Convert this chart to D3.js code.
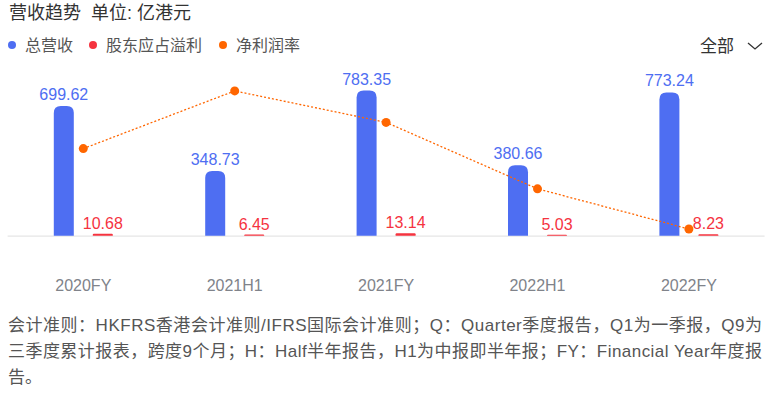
<!DOCTYPE html>
<html>
<head>
<meta charset="utf-8">
<script src="https://cdn.jsdelivr.net/npm/d3@7"></script>
<style>
  body { margin: 0; background: #fff; }
  svg { display: block; }
</style>
</head>
<body>
<svg id="chart" width="773" height="399"></svg>
<script>
const categories = ["2020FY", "2021H1", "2021FY", "2022H1", "2022FY"];
const revenue = [699.62, 348.73, 783.35, 380.66, 773.24];
const netProfit = [10.68, 6.45, 13.14, 5.03, 8.23];
const margin = [1.52, 1.85, 1.67, 1.29, 1.06]; // 净利润率 (%)
const legendNames = ["总营收", "股东应占溢利", "净利润率"];
const footLines = [
    "会计准则：HKFRS香港会计准则/IFRS国际会计准则；Q：Quarter季度报告，Q1为一季报，Q9为",
    "三季度累计报表，跨度9个月；H：Half半年报告，H1为中报即半年报；FY：Financial Year年度报",
    "告。"
];

const FONT = "'Liberation Sans', Arial, 'Noto Sans CJK SC', sans-serif";
const BLUE = "#4e6ef2", RED = "#f5333f", ORANGE = "#ff6600";

const svg = d3.select("#chart").style("font-family", FONT);

const x = d3.scaleBand().domain(categories).range([7.6, 764.6]);
const y = d3.scaleLinear().domain([0, 800]).range([235.7, 87.5]);
const yR = d3.scaleLinear().domain([1, 2]).range([239.5, 64.7]);
const cx = d => x(d) + x.bandwidth() / 2;
const barW = 20, off = 19.5;

// title
svg.append("text").attr("x", 9).attr("y", 19)
    .style("font-size", "18px").style("fill", "#333").style("white-space", "pre")
    .text("营收趋势  单位: 亿港元");

// legend
const legend = svg.append("g").attr("transform", "translate(0, 45)");
const legendX = [12, 93, 223];
const legendCol = [BLUE, RED, ORANGE];
legendNames.forEach((n, i) => {
    legend.append("circle").attr("cx", legendX[i]).attr("cy", 0).attr("r", 4).style("fill", legendCol[i]);
    legend.append("text").attr("x", legendX[i] + 13).attr("y", 6)
        .style("font-size", "16px").style("fill", "#555").text(n);
});

// dropdown
svg.append("text").attr("x", 700).attr("y", 52)
    .style("font-size", "17px").style("fill", "#333").text("全部");
svg.append("polyline").attr("points", "748,43 755,49 762,43")
    .style("fill", "none").style("stroke", "#333").style("stroke-width", 1.3);

// baseline
svg.append("line").attr("x1", 7.6).attr("x2", 764.6).attr("y1", 236.2).attr("y2", 236.2)
    .style("stroke", "#e6e6e6").style("stroke-width", 1.2);

// rounded-top bar path
function topRounded(x0, y0, w, h, r) {
    r = Math.min(r, h, w / 2);
    return `M${x0},${y0 + h}V${y0 + r}Q${x0},${y0} ${x0 + r},${y0}H${x0 + w - r}Q${x0 + w},${y0} ${x0 + w},${y0 + r}V${y0 + h}Z`;
}

const revData = categories.map((c, i) => ({ c, v: revenue[i] }));
const npData = categories.map((c, i) => ({ c, v: netProfit[i] }));

svg.append("g").selectAll("path").data(revData).join("path")
    .attr("d", d => topRounded(cx(d.c) - off - barW / 2, y(d.v), barW, y(0) - y(d.v), 7))
    .style("fill", BLUE);

svg.append("g").selectAll("text").data(revData).join("text")
    .attr("x", d => cx(d.c) - off).attr("y", d => y(d.v) - 6)
    .attr("text-anchor", "middle")
    .style("font-size", "16px").style("fill", BLUE)
    .text(d => d.v.toFixed(2));

svg.append("g").selectAll("path").data(npData).join("path")
    .attr("d", d => topRounded(cx(d.c) + off - barW / 2, y(d.v), barW, y(0) - y(d.v), 1))
    .style("fill", RED);

svg.append("g").selectAll("text").data(npData).join("text")
    .attr("x", d => cx(d.c) + off).attr("y", d => y(d.v) - 5)
    .attr("text-anchor", "middle")
    .style("font-size", "16px").style("fill", RED)
    .text(d => d.v.toFixed(2));

// margin line
const mData = categories.map((c, i) => ({ c, v: margin[i] }));
svg.append("path").datum(mData)
    .attr("d", d3.line().x(d => cx(d.c)).y(d => yR(d.v)))
    .style("fill", "none").style("stroke", ORANGE).style("stroke-width", 1.3)
    .style("stroke-dasharray", "2,2");
svg.append("g").selectAll("circle").data(mData).join("circle")
    .attr("cx", d => cx(d.c)).attr("cy", d => yR(d.v)).attr("r", 4.5)
    .style("fill", ORANGE);

// x axis labels
svg.append("g").selectAll("text").data(categories).join("text")
    .attr("x", d => cx(d)).attr("y", 291)
    .attr("text-anchor", "middle")
    .style("font-size", "16px").style("fill", "#80838a")
    .text(d => d);

// footnote
svg.append("g").selectAll("text").data(footLines).join("text")
    .attr("x", 8).attr("y", (d, i) => 331 + i * 26)
    .attr("textLength", (d, i) => i < 2 ? 754 : null)
    .attr("lengthAdjust", "spacing")
    .style("font-size", "17px").style("fill", "#555")
    .text(d => d);
</script>
</body>
</html>
